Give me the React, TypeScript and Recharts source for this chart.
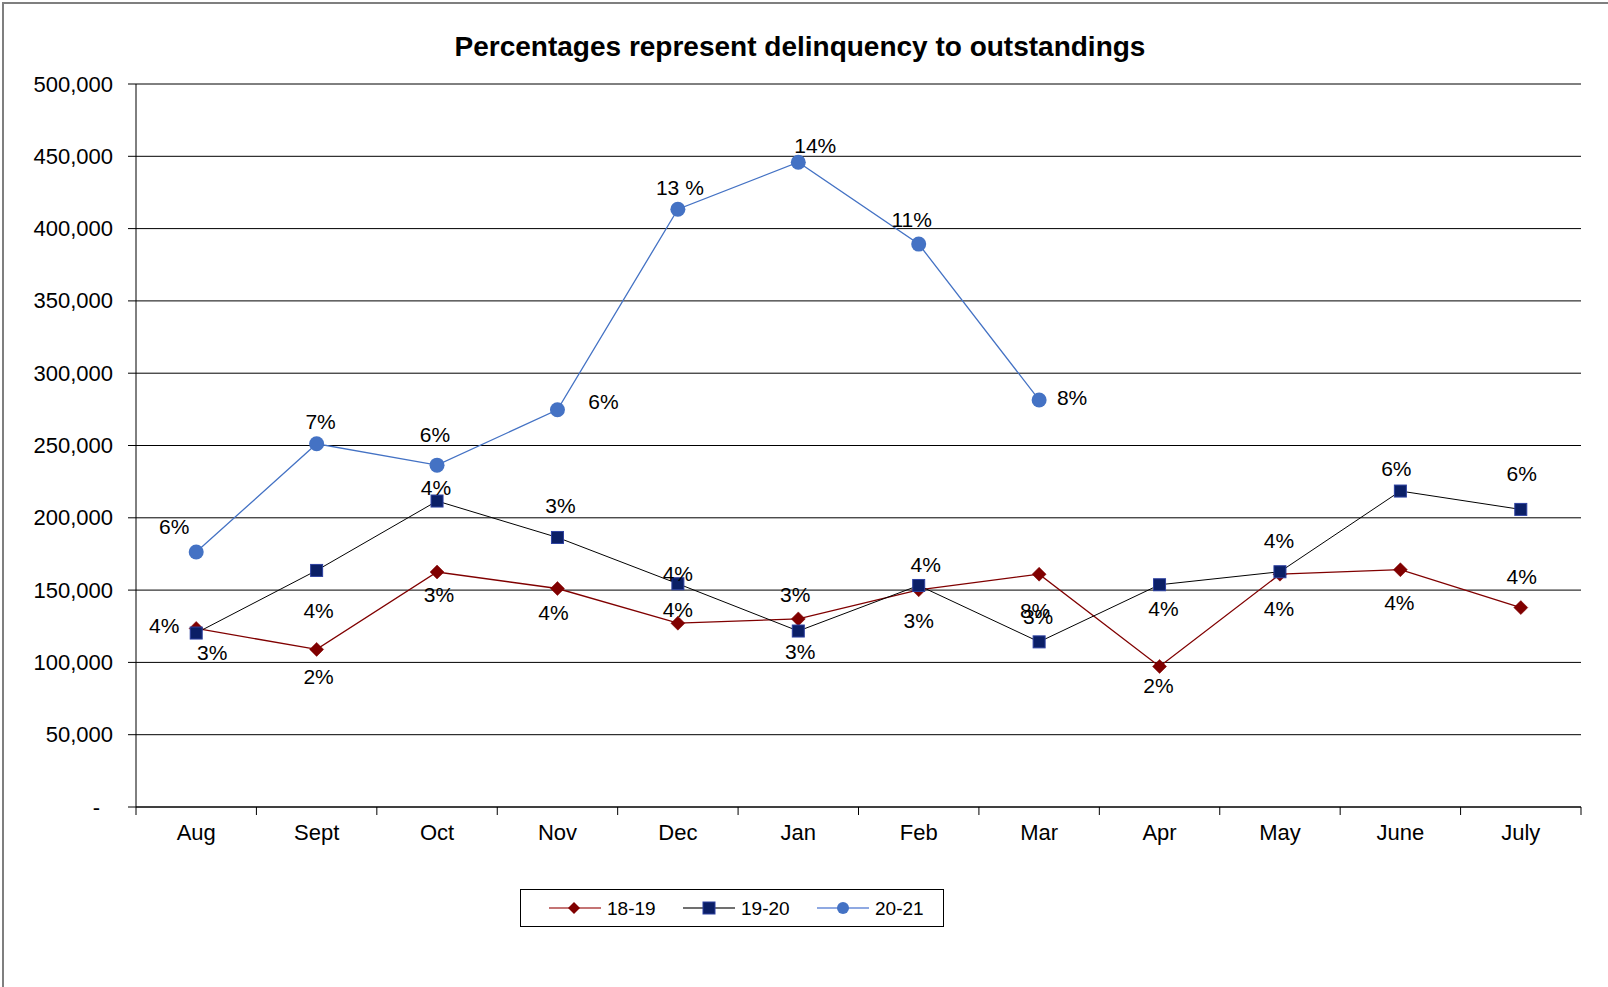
import React from 'react';
import { LineChart, Line, XAxis, YAxis, CartesianGrid, LabelList, Legend } from 'recharts';

// Months of the fiscal year (Aug–July)
const months = ['Aug', 'Sept', 'Oct', 'Nov', 'Dec', 'Jan', 'Feb', 'Mar', 'Apr', 'May', 'June', 'July'];

// Delinquent balances per fiscal year
const fy1819 = [123500, 109000, 162500, 151100, 127100, 130100, 150200, 161000, 97200, 161000, 164100, 137900];
const fy1920 = [120300, 163600, 211600, 186400, 154400, 121700, 153200, 114200, 153700, 162700, 218500, 205800];
const fy2021 = [176300, 251200, 236400, 274700, 413400, 445900, 389300, 281500, null, null, null, null];

// Delinquency-to-outstandings ratios shown next to each point
const pct1819 = ['4%', '2%', '3%', '4%', '4%', '3%', '3%', '8%', '2%', '4%', '4%', '4%'];
const pct1920 = ['3%', '4%', '4%', '3%', '4%', '3%', '4%', '3%', '4%', '4%', '6%', '6%'];
const pct2021 = ['6%', '7%', '6%', '6%', '13 %', '14%', '11%', '8%'];

// Axis ticks
const yTicks = [0, 50000, 100000, 150000, 200000, 250000, 300000, 350000, 400000, 450000, 500000];

const seriesNames = ['18-19', '19-20', '20-21'];

const data = months.map((m, i) => ({
  month: m,
  fy1819: fy1819[i],
  fy1920: fy1920[i],
  fy2021: fy2021[i],
  l1819: pct1819[i],
  l1920: pct1920[i],
  l2021: pct2021[i],
}));

// Layout
const CHART_W = 1608;
const CHART_H = 987;
const MARGIN = { top: 84, right: 27, bottom: 0, left: 0 };
const Y_AXIS_W = 136;
const X_AXIS_H = 180;
const PLOT_W = CHART_W - MARGIN.left - MARGIN.right - Y_AXIS_W;
const BAND = PLOT_W / months.length;
const AXIS_Y = CHART_H - MARGIN.bottom - X_AXIS_H;
const FONT = '"Liberation Sans", Arial, Helvetica, sans-serif';

// Hand-placed label offsets (dx, dy) relative to each marker
const OFF_1819: [number, number][] = [
  [-32, -3], [2, 27], [2, 22], [-4, 24], [0, -14], [-3, -24],
  [0, 31], [-4, 36], [-1, 19], [-1, 34], [-1, 33], [1, -31],
];
const OFF_1920: [number, number][] = [
  [16, 19], [2, 40], [-1, -14], [3, -32], [0, -10], [2, 20],
  [7, -21], [-1, -25], [4, 24], [-1, -31], [-4, -23], [1, -36],
];
const OFF_2021: [number, number][] = [
  [-22, -26], [4, -22], [-2, -31], [46, -8], [2, -22], [17, -17], [-7, -25], [33, -2],
];

const fmt = (v: number) => v.toLocaleString('en-US');

const YTick = (props: any) => {
  const { x, y, payload } = props;
  const zero = payload.value === 0;
  return (
    <text
      x={x}
      y={y}
      dx={zero ? -13 : 0}
      textAnchor="end"
      dominantBaseline="central"
      fontSize={22}
      fontFamily={FONT}
      fill="#000"
    >
      {zero ? '-' : fmt(payload.value)}
    </text>
  );
};

const XTick = (props: any) => {
  const { x, payload, index } = props;
  const left = x - BAND / 2;
  const right = x + BAND / 2;
  return (
    <g>
      <line x1={left} x2={left} y1={AXIS_Y} y2={AXIS_Y + 8} stroke="#000" strokeWidth={1} />
      {index === months.length - 1 && (
        <line x1={right} x2={right} y1={AXIS_Y} y2={AXIS_Y + 8} stroke="#000" strokeWidth={1} />
      )}
      <text
        x={x}
        y={AXIS_Y + 25}
        textAnchor="middle"
        dominantBaseline="central"
        fontSize={22}
        fontFamily={FONT}
        fill="#000"
      >
        {payload.value}
      </text>
    </g>
  );
};

const makeLabel = (offsets: [number, number][]) => (props: any) => {
  const { x, y, value, index } = props;
  if (value == null || x == null || y == null || !offsets[index]) return null;
  const [dx, dy] = offsets[index];
  return (
    <text
      x={x + dx}
      y={y + dy}
      textAnchor="middle"
      dominantBaseline="central"
      fontSize={21}
      fontFamily={FONT}
      fill="#000"
    >
      {value}
    </text>
  );
};

const DiamondDot = (props: any) => {
  const { cx, cy, index } = props;
  if (cx == null || cy == null) return <g key={`dm-${index}`} />;
  const r = 7;
  return (
    <path
      key={`dm-${index}`}
      d={`M${cx},${cy - r} L${cx + r},${cy} L${cx},${cy + r} L${cx - r},${cy} Z`}
      fill="#800000"
      stroke="#800000"
      strokeWidth={0.5}
    />
  );
};

const SquareDot = (props: any) => {
  const { cx, cy, index } = props;
  if (cx == null || cy == null) return <g key={`sq-${index}`} />;
  return (
    <rect
      key={`sq-${index}`}
      x={cx - 6}
      y={cy - 6}
      width={12}
      height={12}
      fill="#0b1f66"
      stroke="#2d40a0"
      strokeWidth={1}
    />
  );
};

const CircleDot = (props: any) => {
  const { cx, cy, index } = props;
  if (cx == null || cy == null) return <g key={`ci-${index}`} />;
  return <circle key={`ci-${index}`} cx={cx} cy={cy} r={7.5} fill="#4472C4" />;
};

const LegendBox = () => {
  const cy = 18;
  return (
    <div
      style={{
        width: 424,
        height: 38,
        border: '1px solid #000',
        boxSizing: 'border-box',
        background: '#fff',
      }}
    >
      <svg width={422} height={36} style={{ display: 'block' }}>
        <line x1={28} x2={80} y1={cy} y2={cy} stroke="#c47474" strokeWidth={2} />
        <path d={`M53,${cy - 6} L59,${cy} L53,${cy + 6} L47,${cy} Z`} fill="#800000" />
        <text x={86} y={cy} dominantBaseline="central" fontSize={19} fontFamily={FONT} fill="#000">
          {seriesNames[0]}
        </text>

        <line x1={162} x2={214} y1={cy} y2={cy} stroke="#707070" strokeWidth={2} />
        <rect x={182} y={cy - 6} width={12} height={12} fill="#0b1f66" stroke="#2d40a0" strokeWidth={1} />
        <text x={220} y={cy} dominantBaseline="central" fontSize={19} fontFamily={FONT} fill="#000">
          {seriesNames[1]}
        </text>

        <line x1={296} x2={348} y1={cy} y2={cy} stroke="#8fa9e2" strokeWidth={2} />
        <circle cx={322} cy={cy} r={6} fill="#4472C4" />
        <text x={354} y={cy} dominantBaseline="central" fontSize={19} fontFamily={FONT} fill="#000">
          {seriesNames[2]}
        </text>
      </svg>
    </div>
  );
};

export default function App() {
  return (
    <div
      style={{
        position: 'fixed',
        left: 0,
        top: 0,
        width: CHART_W,
        height: CHART_H,
        overflow: 'hidden',
        background: '#fff',
        fontFamily: FONT,
      }}
    >
      <div
        style={{
          position: 'absolute',
          left: 2,
          top: 2,
          width: 1700,
          height: 1100,
          border: '2px solid #7f7f7f',
        }}
      />
      <div
        style={{
          position: 'absolute',
          left: 0,
          top: 33,
          width: 1600,
          textAlign: 'center',
          fontSize: 28,
          lineHeight: '28px',
          fontWeight: 'bold',
          color: '#000',
          fontFamily: FONT,
        }}
      >
        Percentages represent delinquency to outstandings
      </div>
      <div style={{ position: 'absolute', left: 0, top: 0 }}>
        <LineChart width={CHART_W} height={CHART_H} data={data} margin={MARGIN}>
          <CartesianGrid vertical={false} stroke="#000" strokeWidth={1} />
          <XAxis
            dataKey="month"
            interval={0}
            padding={{ left: BAND / 2, right: BAND / 2 }}
            height={X_AXIS_H}
            axisLine={{ stroke: '#000', strokeWidth: 1 }}
            tickLine={false}
            tick={<XTick />}
          />
          <YAxis
            domain={[0, 500000]}
            ticks={yTicks}
            interval={0}
            width={Y_AXIS_W}
            tickSize={8}
            tickMargin={15}
            axisLine={{ stroke: '#000', strokeWidth: 1 }}
            tickLine={{ stroke: '#000', strokeWidth: 1 }}
            tick={<YTick />}
          />
          <Legend
            layout="horizontal"
            verticalAlign="middle"
            align="center"
            wrapperStyle={{ left: 520, top: 889, width: 424, height: 38 }}
            content={<LegendBox />}
          />
          <Line
            dataKey="fy1819"
            name={seriesNames[0]}
            stroke="#800000"
            strokeWidth={1.3}
            dot={DiamondDot}
            activeDot={false}
            isAnimationActive={false}
          >
            <LabelList dataKey="l1819" content={makeLabel(OFF_1819)} />
          </Line>
          <Line
            dataKey="fy1920"
            name={seriesNames[1]}
            stroke="#000"
            strokeWidth={1}
            dot={SquareDot}
            activeDot={false}
            isAnimationActive={false}
          >
            <LabelList dataKey="l1920" content={makeLabel(OFF_1920)} />
          </Line>
          <Line
            dataKey="fy2021"
            name={seriesNames[2]}
            stroke="#4472C4"
            strokeWidth={1.3}
            dot={CircleDot}
            activeDot={false}
            isAnimationActive={false}
          >
            <LabelList dataKey="l2021" content={makeLabel(OFF_2021)} />
          </Line>
        </LineChart>
      </div>
    </div>
  );
}
